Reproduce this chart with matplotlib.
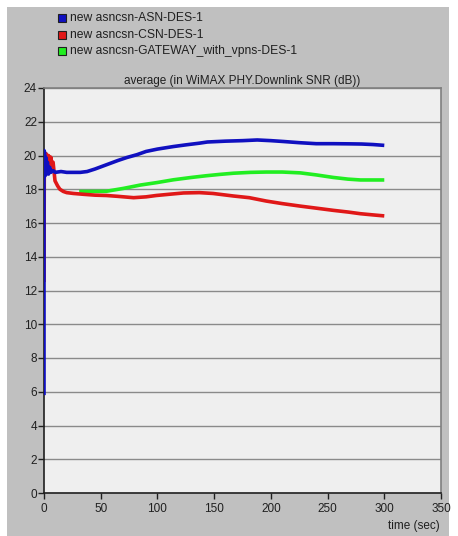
import matplotlib
matplotlib.use("Agg")
import matplotlib.pyplot as plt
from matplotlib.patches import Rectangle

plt.rcParams['font.family'] = ['Liberation Sans', 'DejaVu Sans']

# Data
series_names = ["new asncsn-ASN-DES-1", "new asncsn-CSN-DES-1",
                "new asncsn-GATEWAY_with_vpns-DES-1"]
series_colors = ["#1010c0", "#e01818", "#22ee22"]

asn_t = [0, 0, 0.5, 1, 1.5, 2, 3, 4, 5, 6, 8, 10, 15, 20, 26, 32, 38, 45, 55,
         65, 73, 82, 90, 100, 114, 125, 137, 144, 160, 175, 188, 200, 211, 225,
         240, 255, 270, 280, 290, 300]
asn_v = [5.8, 20.3, 20.2, 18.8, 19.9, 18.9, 19.6, 18.9, 19.3, 19.0, 19.1, 19.0,
         19.05, 19.0, 19.0, 19.0, 19.05, 19.2, 19.45, 19.7, 19.88, 20.05, 20.24,
         20.38, 20.53, 20.63, 20.73, 20.8, 20.85, 20.88, 20.92, 20.88, 20.83,
         20.76, 20.7, 20.7, 20.69, 20.68, 20.65, 20.6]

csn_t = [0, 0.3, 0.6, 1, 2, 3, 4, 5, 6, 7, 8, 9.7, 12, 14, 17, 20, 26, 35, 45,
         55, 65, 79, 90, 99, 110, 123, 137, 149, 167, 181, 196, 210, 226, 240,
         255, 268, 279, 290, 300]
csn_v = [12.5, 20.2, 20.0, 19.6, 20.1, 19.7, 20.0, 19.3, 19.9, 19.5, 19.6, 18.5,
         18.2, 18.0, 17.87, 17.8, 17.75, 17.7, 17.65, 17.63, 17.58, 17.5, 17.55,
         17.63, 17.7, 17.78, 17.8, 17.75, 17.6, 17.5, 17.3, 17.15, 17.0, 16.88,
         16.75, 16.65, 16.55, 16.48, 16.42]

gw_t = [31, 40, 55, 70, 85, 100, 114, 130, 143, 155, 167, 182, 196, 210, 226,
        240, 255, 268, 279, 290, 300]
gw_v = [17.87, 17.87, 17.88, 18.05, 18.25, 18.4, 18.56, 18.7, 18.8, 18.88, 18.95,
        19.0, 19.02, 19.02, 18.97, 18.85, 18.7, 18.6, 18.55, 18.55, 18.55]

title = "average (in WiMAX PHY.Downlink SNR (dB))"
xlabel = "time (sec)"
xticks = [0, 50, 100, 150, 200, 250, 300, 350]
yticks = [0, 2, 4, 6, 8, 10, 12, 14, 16, 18, 20, 22, 24]

W, H = 458, 536
fig = plt.figure(figsize=(W / 100, H / 100), dpi=100)
fig.patch.set_facecolor("white")
fig.patches.append(Rectangle((7 / W, 0), (449 - 7) / W, (H - 7) / H,
                             transform=fig.transFigure, facecolor="#c0c0c0",
                             edgecolor="none", zorder=-10))

ax = fig.add_axes([44 / W, 43 / H, (441 - 44) / W, (493 - 88) / H])
ax.set_facecolor("#efefef")
ax.set_xlim(0, 350)
ax.set_ylim(0, 24)
ax.set_xticks(xticks)
ax.set_yticks(yticks)
ax.yaxis.grid(True, color="#8a8a8a", linewidth=1.0)
ax.set_axisbelow(True)
for s in ["left", "bottom"]:
    ax.spines[s].set_color("#202020")
    ax.spines[s].set_linewidth(1.2)
for s in ["top", "right"]:
    ax.spines[s].set_color("#808080")
    ax.spines[s].set_linewidth(1.2)
ax.tick_params(direction="out", length=4, width=1, colors="#202020",
               labelsize=8.5, labelcolor="#202020", pad=1)
ax.tick_params(axis="x", pad=3)

ax.plot(csn_t, csn_v, color=series_colors[1], linewidth=2.6, solid_capstyle="butt", zorder=4)
ax.plot(gw_t, gw_v, color=series_colors[2], linewidth=2.6, solid_capstyle="butt", zorder=3)
ax.plot(asn_t, asn_v, color=series_colors[0], linewidth=2.6, solid_capstyle="butt", zorder=5)

ax.set_title(title, fontsize=8.5, color="#202020", pad=3)
fig.text(440 / W, 1 - 526 / H, xlabel, ha="right", va="center", fontsize=8.5,
         color="#202020")

# Legend
leg_y = [18, 35, 51]
for name, col, yy in zip(series_names, series_colors, leg_y):
    fig.patches.append(Rectangle((58 / W, 1 - (yy + 4) / H), 8 / W, 8 / H,
                                 transform=fig.transFigure, facecolor=col,
                                 edgecolor="#202020", linewidth=0.8))
    fig.text(70 / W, 1 - yy / H, name, ha="left", va="center", fontsize=8.7,
             color="#202020")

fig.savefig("out.png", dpi=100)
